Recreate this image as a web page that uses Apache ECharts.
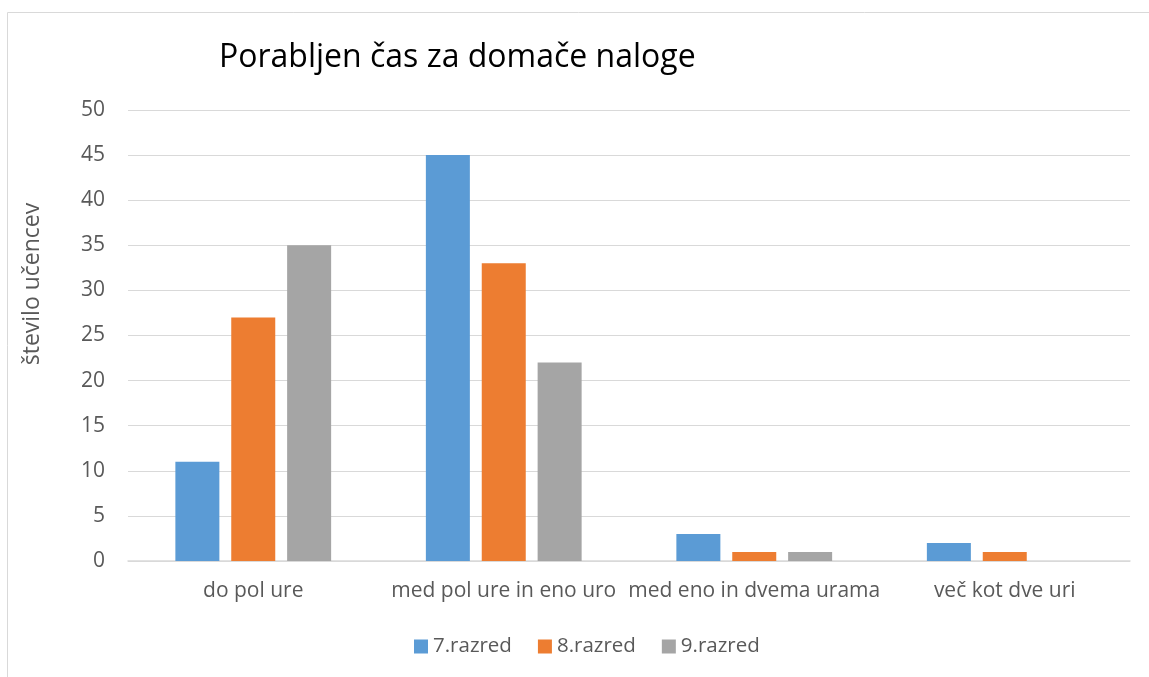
<!DOCTYPE html>
<html>
<head>
<meta charset="utf-8">
<script src="https://cdn.jsdelivr.net/npm/echarts@6/dist/echarts.min.js"></script>
<style>
  html, body { margin: 0; padding: 0; background: #fff; }
  #chart { width: 1149px; height: 677px; }
</style>
</head>
<body>
<div id="chart"></div>
<script>
const categories = ['do pol ure', 'med pol ure in eno uro', 'med eno in dvema urama', 'več kot dve uri']
const razred7 = [11, 45, 3, 2]
const razred8 = [27, 33, 1, 1]
const razred9 = [35, 22, 1, 0]
const seriesNames = ['7.razred', '8.razred', '9.razred']

const textColor = '#595959'
const fontFamily = '"Open Sans", "Noto Sans", sans-serif'

const chart = echarts.init(document.getElementById('chart'))

function bar(name, data, color) {
  return {
    name: name,
    type: 'bar',
    data: data,
    barWidth: 44,
    barGap: '27%',
    itemStyle: { color: color },
    animation: false
  }
}

chart.setOption({
  textStyle: { fontFamily: fontFamily },
  graphic: [{
    type: 'rect',
    shape: { x: 7.5, y: 12.5, width: 1160, height: 700 },
    style: { fill: 'none', stroke: '#d9d9d9', lineWidth: 1 },
    silent: true
  }, {
    // axis title sits a bit above the plot centre in the original
    type: 'text',
    x: 32,
    y: 284,
    rotation: Math.PI / 2,
    style: {
      text: 'število učencev',
      fontSize: 23,
      fontFamily: fontFamily,
      fill: textColor,
      textAlign: 'center',
      textVerticalAlign: 'middle'
    },
    silent: true
  }],
  title: {
    text: 'Porabljen čas za domače naloge',
    left: 214,
    top: 37,
    textStyle: { fontSize: 32, fontWeight: 'normal', color: '#000', fontFamily: fontFamily }
  },
  legend: {
    data: seriesNames,
    top: 631,
    left: 409,
    itemWidth: 14,
    itemHeight: 14,
    itemGap: 26,
    icon: 'rect',
    textStyle: { fontSize: 20.5, color: textColor, fontFamily: fontFamily }
  },
  grid: {
    left: 128,
    right: 19,
    top: 110,
    bottom: 116,
    containLabel: false
  },
  xAxis: {
    type: 'category',
    data: categories,
    axisTick: { show: false },
    axisLine: { lineStyle: { color: '#d9d9d9', width: 1.5 } },
    axisLabel: { fontSize: 21, color: textColor, margin: 20, interval: 0 }
  },
  yAxis: {
    type: 'value',
    min: 0,
    max: 50,
    interval: 5,
    axisLine: { show: false },
    axisTick: { show: false },
    splitLine: { lineStyle: { color: '#d9d9d9', width: 1 } },
    axisLabel: { fontSize: 21, color: textColor, margin: 23 }
  },
  series: [
    bar(seriesNames[0], razred7, '#5b9bd5'),
    bar(seriesNames[1], razred8, '#ed7d31'),
    bar(seriesNames[2], razred9, '#a5a5a5')
  ]
})
</script>
</body>
</html>
